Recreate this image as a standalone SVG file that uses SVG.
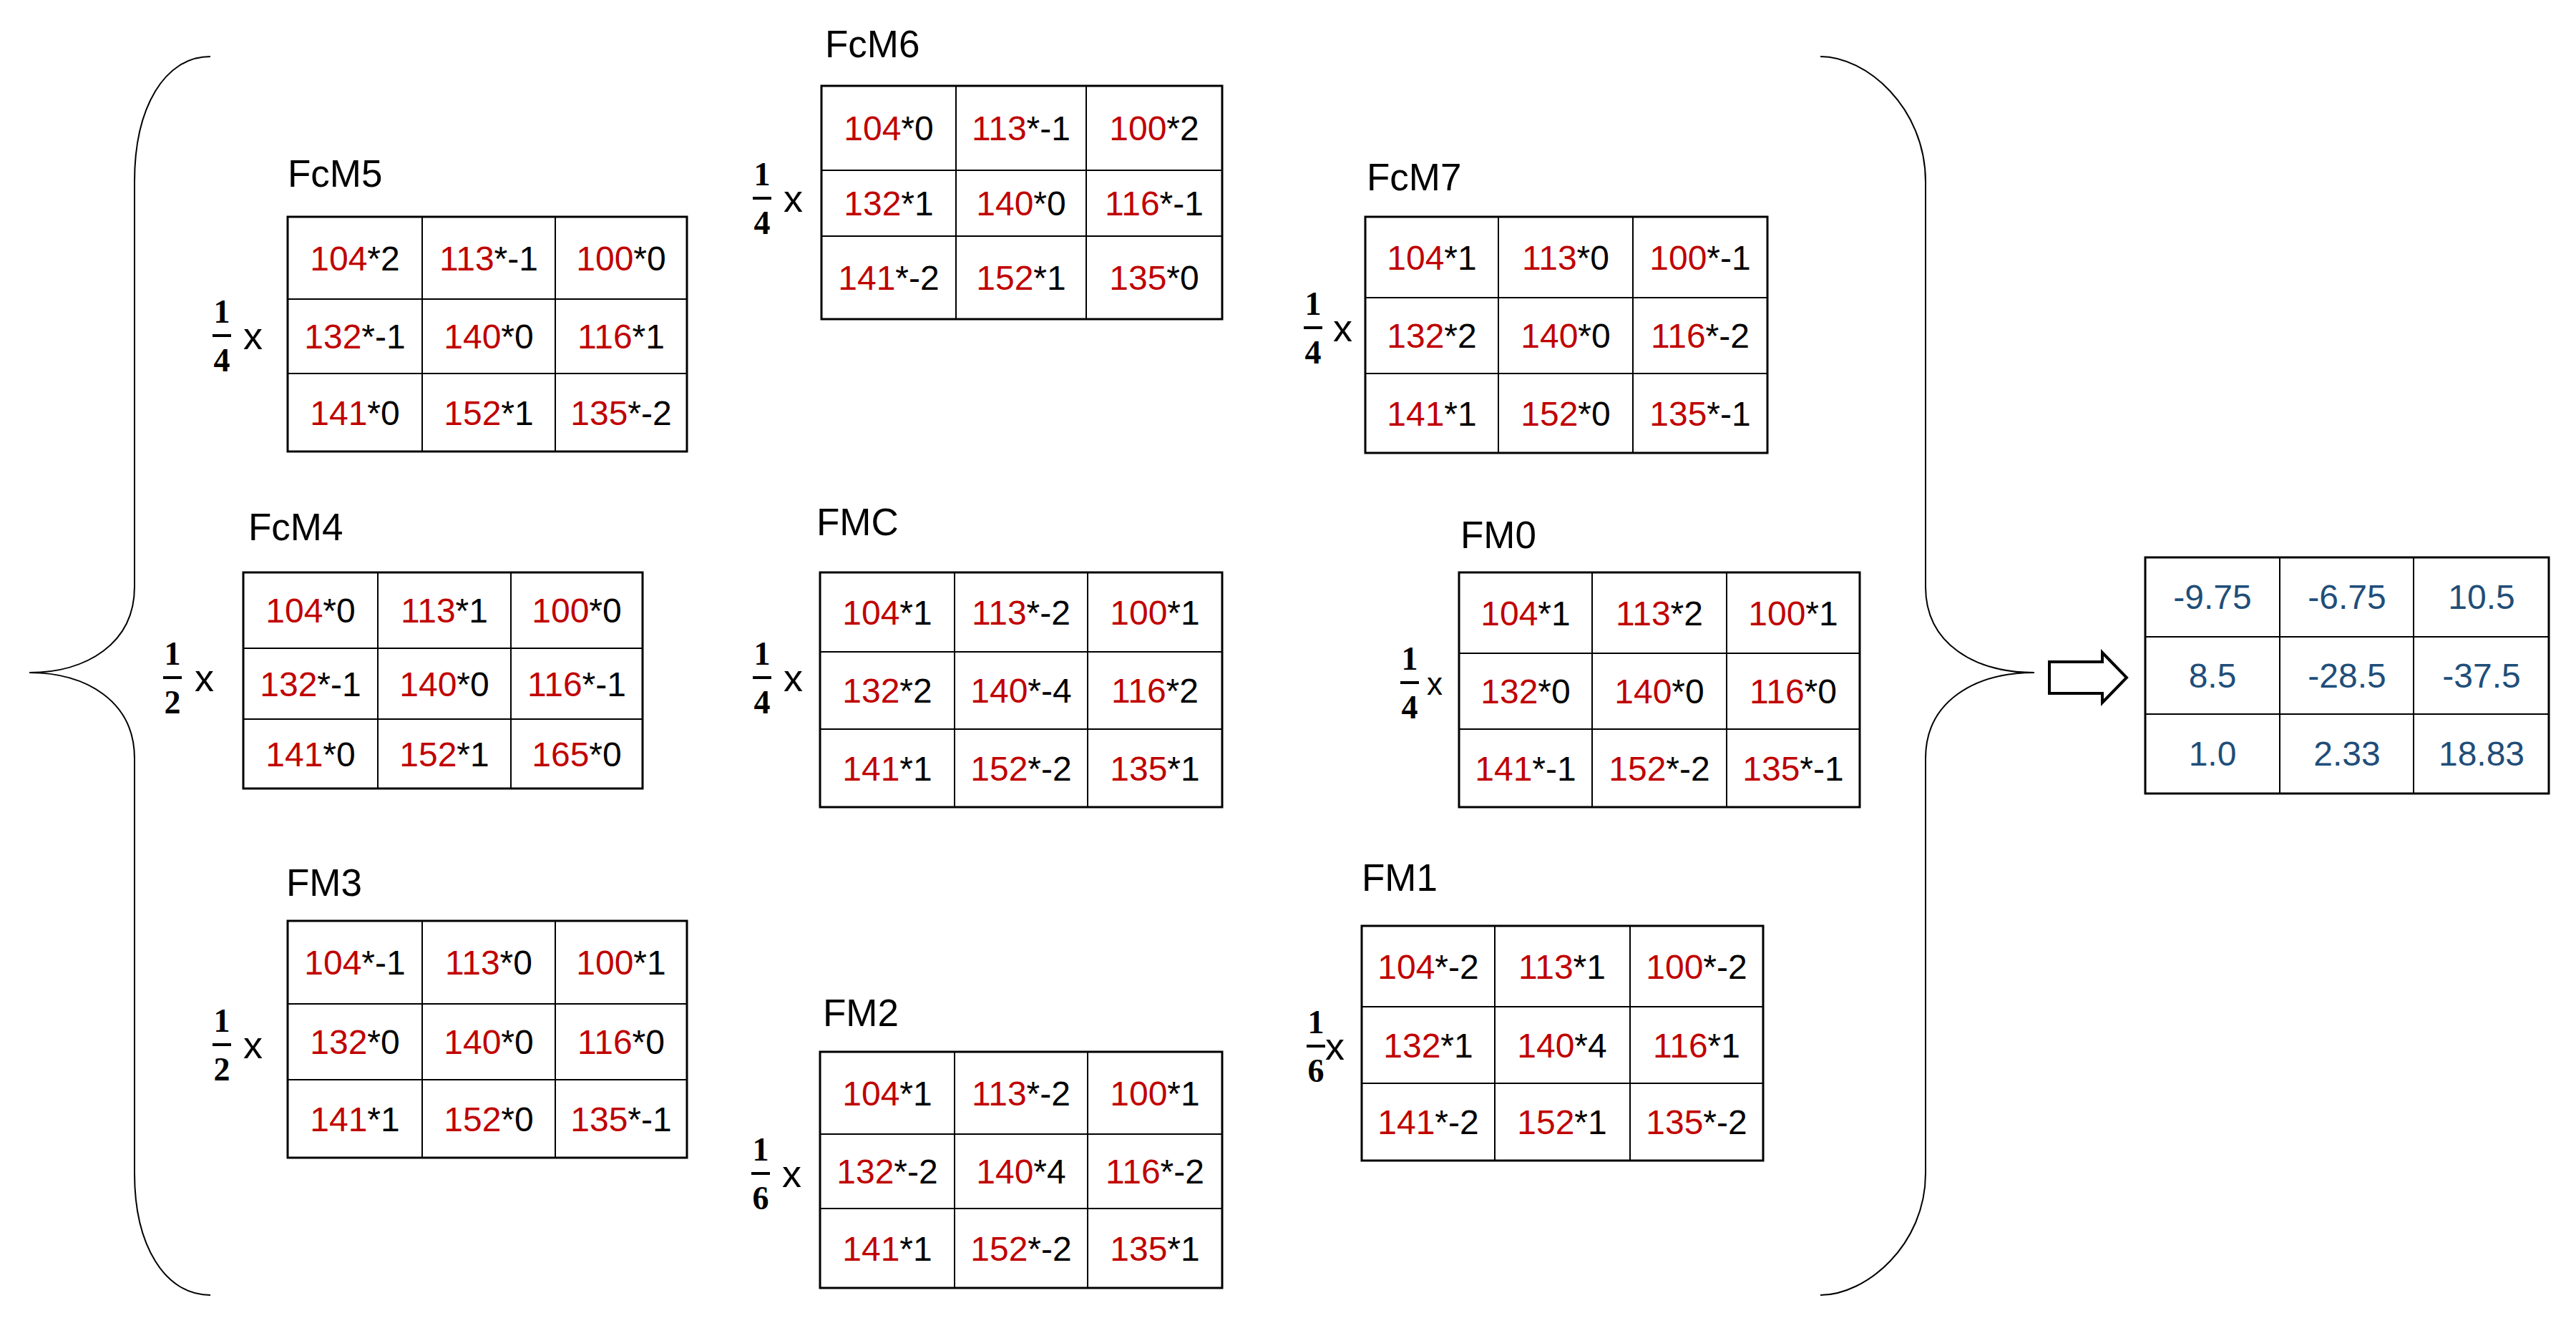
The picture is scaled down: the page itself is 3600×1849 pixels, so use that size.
<svg xmlns="http://www.w3.org/2000/svg" width="3600" height="1849" viewBox="0 0 3600 1849">
<style>
.t{font-family:"Liberation Sans",Arial,sans-serif;font-size:48px;text-anchor:middle;fill:#000}
.r{fill:#C00000}
.ti{font-family:"Liberation Sans",Arial,sans-serif;font-size:53px;fill:#000}
.fr{font-family:"Liberation Serif","Times New Roman",serif;font-weight:bold;font-size:46px;text-anchor:middle}
.x{font-family:"Liberation Sans",Arial,sans-serif;font-size:54px}
.b{font-family:"Liberation Sans",Arial,sans-serif;font-size:48px;text-anchor:middle;fill:#1F4E79}
rect.g{fill:#fff;stroke:#000;stroke-width:3}
.gl{stroke:#000;stroke-width:2;fill:none}
.br{fill:none;stroke:#000;stroke-width:2}
</style>
<rect width="3600" height="1849" fill="#fff"/>
<g id="connectors">
<path class="br" d="M294,79 C230,79 188,150 188,254 L188,820 C188,900 120,940 41,940 C120,940 188,980 188,1060 L188,1640 C188,1740 230,1810 294,1810"/>
<path class="br" d="M2544,79 C2608,79 2691,150 2691,254 L2691,820 C2691,900 2760,940 2843,940 C2760,940 2691,980 2691,1060 L2691,1640 C2691,1740 2608,1810 2544,1810"/>
<path d="M2864,925 L2938,925 L2938,912 L2972,947 L2938,982 L2938,969 L2864,969 Z" fill="#fff" stroke="#000" stroke-width="4"/>
</g>

<g id="FcM5">
<text class="ti" x="402" y="261">FcM5</text>
<text class="fr" x="310" y="451">1</text><line x1="297" y1="469" x2="323" y2="469" stroke="#000" stroke-width="4"/><text class="fr" x="310" y="519">4</text><text class="x" x="340" y="488">x</text>
<rect class="g" x="402" y="303" width="558" height="328"/>
<path class="gl" d="M590,303V631M776,303V631M402,418H960M402,522H960"/>
<text class="t" x="496" y="378"><tspan class="r">104</tspan>*2</text><text class="t" x="683" y="378"><tspan class="r">113</tspan>*-1</text><text class="t" x="868" y="378"><tspan class="r">100</tspan>*0</text>
<text class="t" x="496" y="487"><tspan class="r">132</tspan>*-1</text><text class="t" x="683" y="487"><tspan class="r">140</tspan>*0</text><text class="t" x="868" y="487"><tspan class="r">116</tspan>*1</text>
<text class="t" x="496" y="594"><tspan class="r">141</tspan>*0</text><text class="t" x="683" y="594"><tspan class="r">152</tspan>*1</text><text class="t" x="868" y="594"><tspan class="r">135</tspan>*-2</text>
</g>

<g id="FcM6">
<text class="ti" x="1153" y="80">FcM6</text>
<text class="fr" x="1065" y="259">1</text><line x1="1052" y1="277" x2="1078" y2="277" stroke="#000" stroke-width="4"/><text class="fr" x="1065" y="327">4</text><text class="x" x="1095" y="296">x</text>
<rect class="g" x="1148" y="120" width="560" height="326"/>
<path class="gl" d="M1336,120V446M1518,120V446M1148,238H1708M1148,330H1708"/>
<text class="t" x="1242" y="196"><tspan class="r">104</tspan>*0</text><text class="t" x="1427" y="196"><tspan class="r">113</tspan>*-1</text><text class="t" x="1613" y="196"><tspan class="r">100</tspan>*2</text>
<text class="t" x="1242" y="301"><tspan class="r">132</tspan>*1</text><text class="t" x="1427" y="301"><tspan class="r">140</tspan>*0</text><text class="t" x="1613" y="301"><tspan class="r">116</tspan>*-1</text>
<text class="t" x="1242" y="405"><tspan class="r">141</tspan>*-2</text><text class="t" x="1427" y="405"><tspan class="r">152</tspan>*1</text><text class="t" x="1613" y="405"><tspan class="r">135</tspan>*0</text>
</g>

<g id="FcM7">
<text class="ti" x="1910" y="266">FcM7</text>
<text class="fr" x="1835" y="440">1</text><line x1="1822" y1="458" x2="1848" y2="458" stroke="#000" stroke-width="4"/><text class="fr" x="1835" y="508">4</text><text class="x" x="1863" y="477">x</text>
<rect class="g" x="1908" y="303" width="562" height="330"/>
<path class="gl" d="M2094,303V633M2282,303V633M1908,416H2470M1908,522H2470"/>
<text class="t" x="2001" y="377"><tspan class="r">104</tspan>*1</text><text class="t" x="2188" y="377"><tspan class="r">113</tspan>*0</text><text class="t" x="2376" y="377"><tspan class="r">100</tspan>*-1</text>
<text class="t" x="2001" y="486"><tspan class="r">132</tspan>*2</text><text class="t" x="2188" y="486"><tspan class="r">140</tspan>*0</text><text class="t" x="2376" y="486"><tspan class="r">116</tspan>*-2</text>
<text class="t" x="2001" y="595"><tspan class="r">141</tspan>*1</text><text class="t" x="2188" y="595"><tspan class="r">152</tspan>*0</text><text class="t" x="2376" y="595"><tspan class="r">135</tspan>*-1</text>
</g>

<g id="FcM4">
<text class="ti" x="347" y="755">FcM4</text>
<text class="fr" x="241" y="929">1</text><line x1="228" y1="947" x2="254" y2="947" stroke="#000" stroke-width="4"/><text class="fr" x="241" y="997">2</text><text class="x" x="272" y="966">x</text>
<rect class="g" x="340" y="800" width="558" height="302"/>
<path class="gl" d="M528,800V1102M714,800V1102M340,906H898M340,1005H898"/>
<text class="t" x="434" y="870"><tspan class="r">104</tspan>*0</text><text class="t" x="621" y="870"><tspan class="r">113</tspan>*1</text><text class="t" x="806" y="870"><tspan class="r">100</tspan>*0</text>
<text class="t" x="434" y="973"><tspan class="r">132</tspan>*-1</text><text class="t" x="621" y="973"><tspan class="r">140</tspan>*0</text><text class="t" x="806" y="973"><tspan class="r">116</tspan>*-1</text>
<text class="t" x="434" y="1071"><tspan class="r">141</tspan>*0</text><text class="t" x="621" y="1071"><tspan class="r">152</tspan>*1</text><text class="t" x="806" y="1071"><tspan class="r">165</tspan>*0</text>
</g>

<g id="FMC">
<text class="ti" x="1141" y="748">FMC</text>
<text class="fr" x="1065" y="929">1</text><line x1="1052" y1="947" x2="1078" y2="947" stroke="#000" stroke-width="4"/><text class="fr" x="1065" y="997">4</text><text class="x" x="1095" y="966">x</text>
<rect class="g" x="1146" y="800" width="562" height="328"/>
<path class="gl" d="M1334,800V1128M1520,800V1128M1146,911H1708M1146,1019H1708"/>
<text class="t" x="1240" y="873"><tspan class="r">104</tspan>*1</text><text class="t" x="1427" y="873"><tspan class="r">113</tspan>*-2</text><text class="t" x="1614" y="873"><tspan class="r">100</tspan>*1</text>
<text class="t" x="1240" y="982"><tspan class="r">132</tspan>*2</text><text class="t" x="1427" y="982"><tspan class="r">140</tspan>*-4</text><text class="t" x="1614" y="982"><tspan class="r">116</tspan>*2</text>
<text class="t" x="1240" y="1091"><tspan class="r">141</tspan>*1</text><text class="t" x="1427" y="1091"><tspan class="r">152</tspan>*-2</text><text class="t" x="1614" y="1091"><tspan class="r">135</tspan>*1</text>
</g>

<g id="FM0">
<text class="ti" x="2041" y="766">FM0</text>
<text class="fr" x="1970" y="936">1</text><line x1="1957" y1="954" x2="1983" y2="954" stroke="#000" stroke-width="4"/><text class="fr" x="1970" y="1004">4</text><text class="x" x="1994" y="971" style="font-size:44px">x</text>
<rect class="g" x="2039" y="800" width="560" height="328"/>
<path class="gl" d="M2225,800V1128M2413,800V1128M2039,913H2599M2039,1019H2599"/>
<text class="t" x="2132" y="874"><tspan class="r">104</tspan>*1</text><text class="t" x="2319" y="874"><tspan class="r">113</tspan>*2</text><text class="t" x="2506" y="874"><tspan class="r">100</tspan>*1</text>
<text class="t" x="2132" y="983"><tspan class="r">132</tspan>*0</text><text class="t" x="2319" y="983"><tspan class="r">140</tspan>*0</text><text class="t" x="2506" y="983"><tspan class="r">116</tspan>*0</text>
<text class="t" x="2132" y="1091"><tspan class="r">141</tspan>*-1</text><text class="t" x="2319" y="1091"><tspan class="r">152</tspan>*-2</text><text class="t" x="2506" y="1091"><tspan class="r">135</tspan>*-1</text>
</g>

<g id="FM3">
<text class="ti" x="400" y="1252">FM3</text>
<text class="fr" x="310" y="1442">1</text><line x1="297" y1="1460" x2="323" y2="1460" stroke="#000" stroke-width="4"/><text class="fr" x="310" y="1510">2</text><text class="x" x="340" y="1479">x</text>
<rect class="g" x="402" y="1287" width="558" height="331"/>
<path class="gl" d="M590,1287V1618M776,1287V1618M402,1403H960M402,1509H960"/>
<text class="t" x="496" y="1362"><tspan class="r">104</tspan>*-1</text><text class="t" x="683" y="1362"><tspan class="r">113</tspan>*0</text><text class="t" x="868" y="1362"><tspan class="r">100</tspan>*1</text>
<text class="t" x="496" y="1473"><tspan class="r">132</tspan>*0</text><text class="t" x="683" y="1473"><tspan class="r">140</tspan>*0</text><text class="t" x="868" y="1473"><tspan class="r">116</tspan>*0</text>
<text class="t" x="496" y="1581"><tspan class="r">141</tspan>*1</text><text class="t" x="683" y="1581"><tspan class="r">152</tspan>*0</text><text class="t" x="868" y="1581"><tspan class="r">135</tspan>*-1</text>
</g>

<g id="FM2">
<text class="ti" x="1150" y="1434">FM2</text>
<text class="fr" x="1063" y="1622">1</text><line x1="1050" y1="1640" x2="1076" y2="1640" stroke="#000" stroke-width="4"/><text class="fr" x="1063" y="1690">6</text><text class="x" x="1093" y="1659">x</text>
<rect class="g" x="1146" y="1470" width="562" height="330"/>
<path class="gl" d="M1334,1470V1800M1520,1470V1800M1146,1585H1708M1146,1689H1708"/>
<text class="t" x="1240" y="1545"><tspan class="r">104</tspan>*1</text><text class="t" x="1427" y="1545"><tspan class="r">113</tspan>*-2</text><text class="t" x="1614" y="1545"><tspan class="r">100</tspan>*1</text>
<text class="t" x="1240" y="1654"><tspan class="r">132</tspan>*-2</text><text class="t" x="1427" y="1654"><tspan class="r">140</tspan>*4</text><text class="t" x="1614" y="1654"><tspan class="r">116</tspan>*-2</text>
<text class="t" x="1240" y="1762"><tspan class="r">141</tspan>*1</text><text class="t" x="1427" y="1762"><tspan class="r">152</tspan>*-2</text><text class="t" x="1614" y="1762"><tspan class="r">135</tspan>*1</text>
</g>

<g id="FM1">
<text class="ti" x="1903" y="1245">FM1</text>
<text class="fr" x="1839" y="1444">1</text><line x1="1826" y1="1462" x2="1852" y2="1462" stroke="#000" stroke-width="4"/><text class="fr" x="1839" y="1512">6</text><text class="x" x="1852" y="1481">x</text>
<rect class="g" x="1903" y="1294" width="561" height="328"/>
<path class="gl" d="M2089,1294V1622M2278,1294V1622M1903,1407H2464M1903,1514H2464"/>
<text class="t" x="1996" y="1368"><tspan class="r">104</tspan>*-2</text><text class="t" x="2183" y="1368"><tspan class="r">113</tspan>*1</text><text class="t" x="2371" y="1368"><tspan class="r">100</tspan>*-2</text>
<text class="t" x="1996" y="1478"><tspan class="r">132</tspan>*1</text><text class="t" x="2183" y="1478"><tspan class="r">140</tspan>*4</text><text class="t" x="2371" y="1478"><tspan class="r">116</tspan>*1</text>
<text class="t" x="1996" y="1585"><tspan class="r">141</tspan>*-2</text><text class="t" x="2183" y="1585"><tspan class="r">152</tspan>*1</text><text class="t" x="2371" y="1585"><tspan class="r">135</tspan>*-2</text>
</g>

<g id="Result">
<rect class="g" x="2998" y="779" width="564" height="330"/>
<path class="gl" d="M3186,779V1109M3373,779V1109M2998,890H3562M2998,998H3562"/>
<text class="b" x="3092" y="851">-9.75</text><text class="b" x="3280" y="851">-6.75</text><text class="b" x="3468" y="851">10.5</text>
<text class="b" x="3092" y="961">8.5</text><text class="b" x="3280" y="961">-28.5</text><text class="b" x="3468" y="961">-37.5</text>
<text class="b" x="3092" y="1070">1.0</text><text class="b" x="3280" y="1070">2.33</text><text class="b" x="3468" y="1070">18.83</text>
</g>
</svg>
